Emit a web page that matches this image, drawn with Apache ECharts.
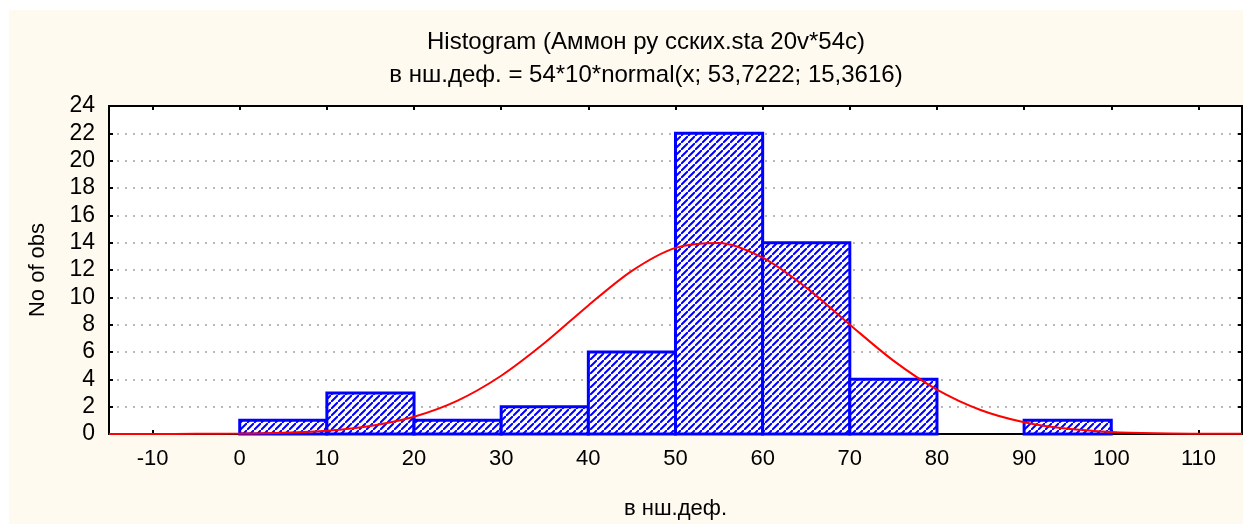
<!DOCTYPE html>
<html>
<head>
<meta charset="utf-8">
<script src="https://cdn.jsdelivr.net/npm/echarts@6/dist/echarts.min.js"></script>
<style>
  html, body { margin: 0; padding: 0; background: #fff; }
  #main { position: absolute; left: 9px; top: 10px; width: 1234px; height: 514px; }
</style>
</head>
<body>
<div id="main"></div>
<script>
// histogram bins (edges) and counts
const binEdges = [0, 10, 20, 30, 40, 50, 60, 70, 80, 90, 100];
const counts = [1, 3, 1, 2, 6, 22, 14, 4, 0, 1];

// fitted normal curve, every 5 units
const curveX = [-15, -10, -5, 0, 5, 10, 15, 20, 25, 30, 35, 40, 45, 50, 55, 60, 65, 70, 75, 80, 85, 90, 95, 100, 105, 110, 115];
const curveY = [0, 0, 0.01, 0.03, 0.09, 0.24, 0.59, 1.26, 2.44, 4.26, 6.67, 9.41, 11.94, 13.62, 13.98, 12.9, 10.71, 8.0, 5.37, 3.25, 1.76, 0.86, 0.38, 0.15, 0.05, 0.02, 0.01];

const yTicks = [0, 24, 2]; // min, max, step

// hatch pattern for the bars
function makeHatch() {
    const s = 7;
    const c = document.createElement('canvas');
    c.width = s; c.height = s;
    const ctx = c.getContext('2d');
    ctx.fillStyle = '#fff';
    ctx.fillRect(0, 0, s, s);
    ctx.strokeStyle = '#0000ff';
    ctx.lineWidth = 2;
    ctx.beginPath();
    ctx.moveTo(-1, s + 1); ctx.lineTo(s + 1, -1);
    ctx.moveTo(-2, 1); ctx.lineTo(1, -2);
    ctx.moveTo(s - 1, s + 2); ctx.lineTo(s + 2, s - 1);
    ctx.stroke();
    return c;
}
const hatch = {image: makeHatch(), repeat: 'repeat'};

const barData = counts.map((v, i) => [binEdges[i], binEdges[i + 1], v]);
const lineData = curveX.map((x, i) => [x, curveY[i]]);

const font = 'Arial, "Liberation Sans", sans-serif';
const tick = {show: true, inside: true, length: 4, lineStyle: {color: '#000', width: 2}};
const axLine = {show: true, onZero: false, lineStyle: {color: '#000', width: 2}};

const chart = echarts.init(document.getElementById('main'));
chart.setOption({
    backgroundColor: '#fffaef',
    animation: false,
    textStyle: {fontFamily: font, color: '#000'},
    title: [
        {
            text: 'Histogram (Аммон ру сских.sta 20v*54c)',
            left: 632, top: 15, textAlign: 'center',
            textStyle: {fontFamily: font, fontSize: 24, fontWeight: 'normal', color: '#000'}
        },
        {
            text: 'в нш.деф. = 54*10*normal(x; 53,7222; 15,3616)',
            left: 632, top: 48, textAlign: 'center',
            textStyle: {fontFamily: font, fontSize: 24, fontWeight: 'normal', color: '#000'}
        }
    ],
    grid: {
        left: 100, right: 1, top: 96, bottom: 90,
        outerBoundsMode: 'none', containLabel: false,
        show: true, backgroundColor: '#fff', borderColor: '#000', borderWidth: 2
    },
    xAxis: [
        {
            type: 'value', min: -15, max: 115, splitNumber: 13,
            name: 'в нш.деф.', nameLocation: 'middle', nameGap: 64,
            nameTextStyle: {fontSize: 22, color: '#000', fontFamily: font},
            axisLine: axLine,
            axisTick: tick,
            axisLabel: {fontSize: 22, color: '#000', margin: 14, showMinLabel: false, showMaxLabel: false},
            splitLine: {show: false}
        },
        {
            type: 'value', min: -15, max: 115, splitNumber: 13, position: 'top',
            axisLine: axLine,
            axisTick: tick,
            axisLabel: {show: false},
            splitLine: {show: false}
        }
    ],
    yAxis: [
        {
            type: 'value', min: yTicks[0], max: yTicks[1], interval: yTicks[2],
            name: 'No of obs', nameLocation: 'middle', nameGap: 60,
            nameTextStyle: {fontSize: 22, color: '#000', fontFamily: font},
            axisLine: axLine,
            axisTick: tick,
            axisLabel: {fontSize: 23, color: '#000', margin: 14},
            splitLine: {show: true, lineStyle: {color: '#b8b8b8', width: 2, type: [2, 6]}}
        },
        {
            type: 'value', min: yTicks[0], max: yTicks[1], interval: yTicks[2], position: 'right',
            axisLine: axLine,
            axisTick: tick,
            axisLabel: {show: false},
            splitLine: {show: false}
        }
    ],
    series: [
        {
            type: 'custom',
            xAxisIndex: 0, yAxisIndex: 0,
            data: barData,
            renderItem: function (params, api) {
                if (!api.value(2)) return null;
                const p0 = api.coord([api.value(0), 0]);
                const p1 = api.coord([api.value(1), api.value(2)]);
                return {
                    type: 'rect',
                    shape: {x: p0[0], y: p1[1], width: p1[0] - p0[0], height: p0[1] - p1[1]},
                    style: {fill: hatch, stroke: '#0000ff', lineWidth: 3}
                };
            }
        },
        {
            type: 'line',
            xAxisIndex: 0, yAxisIndex: 0,
            data: lineData,
            smooth: 0.3,
            symbol: 'none',
            lineStyle: {color: '#ff0000', width: 2}
        }
    ]
});
</script>
</body>
</html>
